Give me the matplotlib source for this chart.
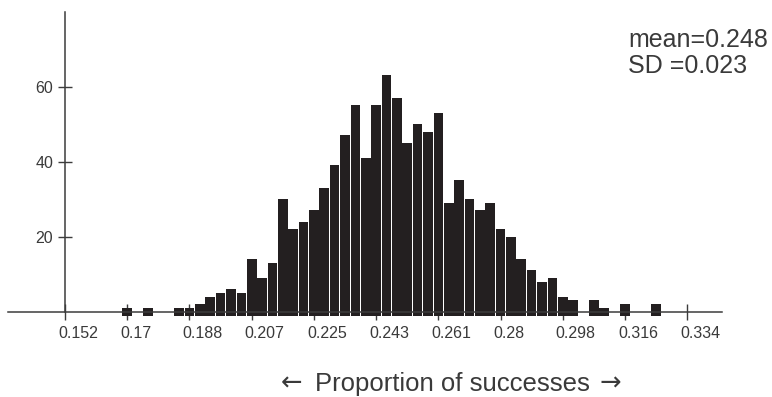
import numpy as np
import matplotlib
matplotlib.use("Agg")
import matplotlib.pyplot as plt
from matplotlib.transforms import ScaledTranslation

plt.rcParams["font.family"] = ["Liberation Sans", "DejaVu Sans"]

# 1000 simulated samples of size 329: number of successes -> frequency
N_TRIALS = 329
SUCCESSES = [56, 58, 61, 62, 63, 64, 65, 66, 67, 68, 69, 70, 71, 72, 73, 74,
             75, 76, 77, 78, 79, 80, 81, 82, 83, 84, 85, 86, 87, 88, 89, 90,
             91, 92, 93, 94, 95, 96, 97, 98, 99, 101, 102, 104, 107]
FREQUENCIES = [1, 1, 1, 1, 2, 4, 5, 6, 5, 14, 9, 13, 30, 22, 24, 27,
               33, 39, 47, 55, 41, 55, 63, 57, 45, 50, 48, 53, 29, 35, 30, 27,
               29, 22, 20, 14, 11, 8, 9, 4, 3, 3, 1, 2, 2]

TICK_SUCCESSES = [50, 56, 62, 68, 74, 80, 86, 92, 98, 104, 110]
TICK_LABELS = ["0.152", "0.17", "0.188", "0.207", "0.225", "0.243",
               "0.261", "0.28", "0.298", "0.316", "0.334"]
Y_TICKS = [20, 40, 60]
STATS = ["mean=0.248", "SD =0.023"]

BAR_COLOR = "#231f20"
AXIS_COLOR = "#3c3c3c"
TEXT_COLOR = "#3a3a3a"
BAR_DROP = 1.2   # bars sink slightly below the baseline

props = np.array(SUCCESSES) / N_TRIALS
freqs = np.array(FREQUENCIES, dtype=float)

fig = plt.figure(figsize=(7.72, 3.97), dpi=100)
ax = fig.add_axes([0.0104, 0.1685, 0.9249, 0.802])

ax.bar(props, freqs + BAR_DROP, bottom=-BAR_DROP, width=0.93 / N_TRIALS,
       color=BAR_COLOR, linewidth=0, zorder=2)

ax.set_xlim(44.5 / N_TRIALS, 113.36 / N_TRIALS)
ax.set_ylim(-4.9, 80)

for side in ("top", "right"):
    ax.spines[side].set_visible(False)
ax.spines["bottom"].set_position(("data", 0))
ax.spines["left"].set_position(("data", TICK_SUCCESSES[0] / N_TRIALS))
ax.spines["left"].set_bounds(0, 80)
for side in ("bottom", "left"):
    ax.spines[side].set_color(AXIS_COLOR)
    ax.spines[side].set_linewidth(1.1)
    ax.spines[side].set_zorder(3)

ax.set_xticks(np.array(TICK_SUCCESSES) / N_TRIALS)
ax.set_xticklabels(TICK_LABELS, ha="left")
ax.set_yticks(Y_TICKS)
ax.tick_params(axis="x", direction="inout", length=11, width=1.0,
               color=AXIS_COLOR, labelcolor=TEXT_COLOR, labelsize=11.5, pad=5)
ax.tick_params(axis="y", direction="inout", length=10, width=1.0,
               color=AXIS_COLOR, labelcolor=TEXT_COLOR, labelsize=11.5, pad=3.5)

shift = ScaledTranslation(-7 / 100, 0, fig.dpi_scale_trans)
for lab in ax.get_xticklabels():
    lab.set_transform(lab.get_transform() + shift)

fig.text(628 / 772, 1 - 46.7 / 397, STATS[0], fontsize=18,
         color=TEXT_COLOR, ha="left", va="baseline")
fig.text(628 / 772, 1 - 73.3 / 397, STATS[1], fontsize=18,
         color=TEXT_COLOR, ha="left", va="baseline")

# axis caption with arrows drawn on either side
cap_y = 1 - 391 / 397
fig.text(315 / 772, cap_y, "Proportion of successes", fontsize=18.5,
         color=TEXT_COLOR, ha="left", va="baseline")
fig.text(281 / 772, cap_y, "\u2190", fontsize=18.5, family="DejaVu Sans",
         color=TEXT_COLOR, ha="left", va="baseline")
fig.text(621 / 772, cap_y, "\u2192", fontsize=18.5, family="DejaVu Sans",
         color=TEXT_COLOR, ha="right", va="baseline")

fig.savefig("out.png", dpi=100, facecolor="white")
